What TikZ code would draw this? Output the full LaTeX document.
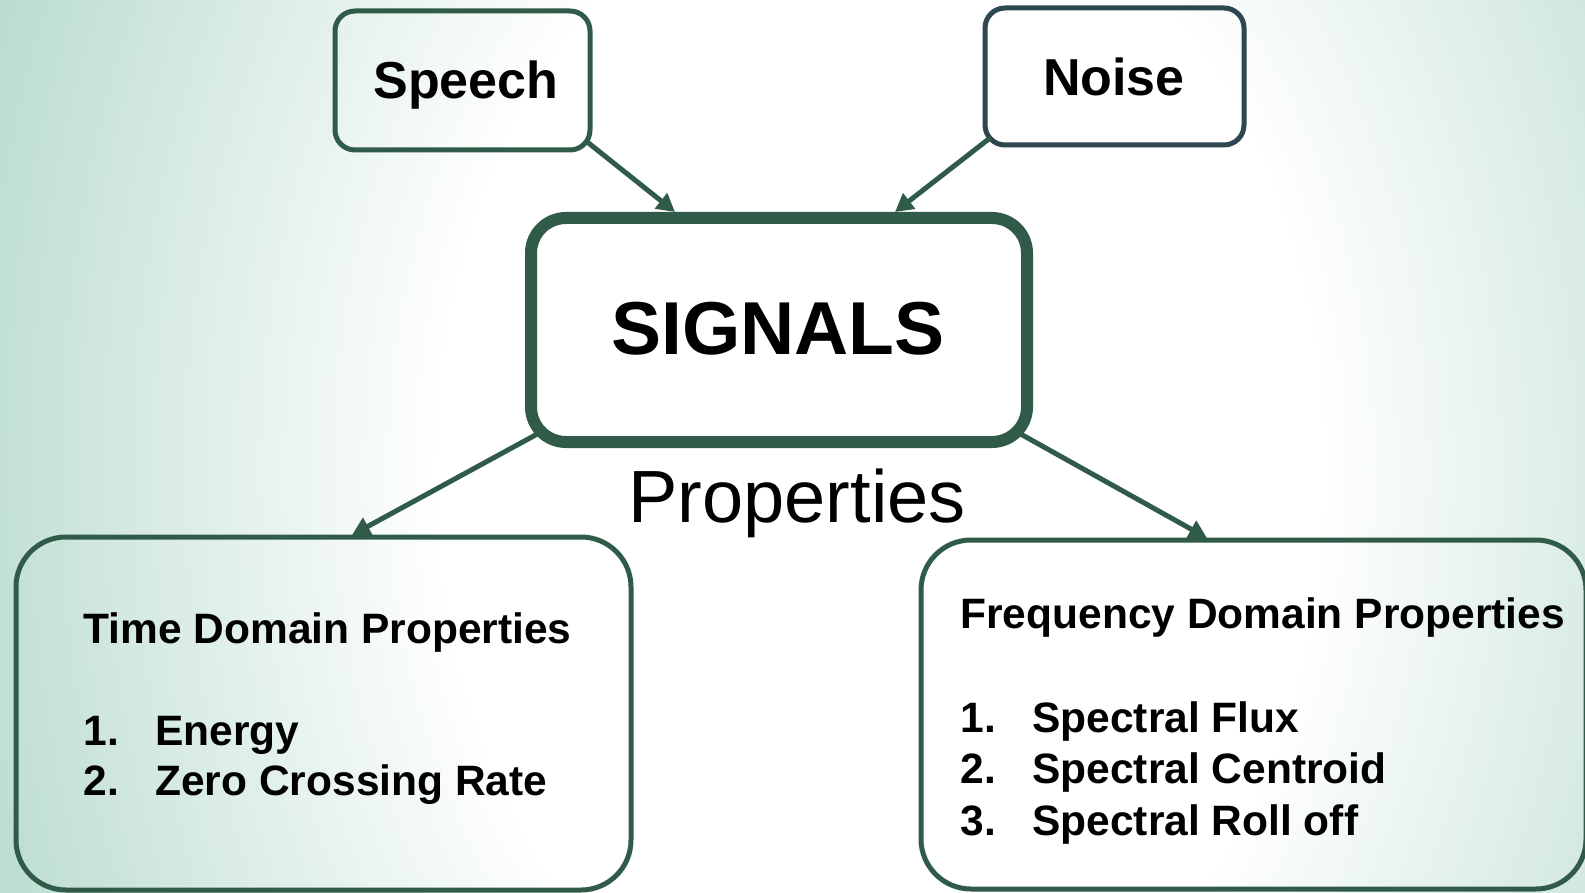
\documentclass[tikz,border=0pt]{standalone}
\usepackage{fontspec}
\setmainfont{Liberation Sans}
\usetikzlibrary{arrows.meta,calc}
\definecolor{edge}{RGB}{48,91,72}
\definecolor{edgeb}{RGB}{46,70,80}
\definecolor{bggreen}{RGB}{183,218,205}
\pgfdeclareradialshading{bgshade}{\pgfpoint{0bp}{0bp}}{color(0bp)=(white); color(10bp)=(white); color(22bp)=(bggreen); color(50bp)=(bggreen)}
\begin{document}
\begin{tikzpicture}[x=0.5pt,y=-0.5pt,
  box/.style={draw=edge, line width=2.5pt, inner sep=0pt, outer sep=0pt},
  conn/.style={draw=edge, line width=2.5pt, -{Triangle[length=9pt,width=9.5pt]}},
  lbl/.style={anchor=base, inner sep=0pt, text=black},
  small/.style={lbl, anchor=base west, font=\fontsize{21.25pt}{25pt}\selectfont\bfseries}]
\useasboundingbox (0,0) rectangle (1585,893);
\begin{scope}
\clip (0,0) rectangle (1585,893);
\shade[shading=bgshade] (-220,-1030) rectangle (1980,1970);
\end{scope}
% boxes
\node[box, rounded corners=10pt, minimum width=127.5pt, minimum height=69.5pt] (speech) at (462.5,80.5) {};
\node[box, draw=edgeb, rounded corners=10pt, minimum width=129.5pt, minimum height=68.5pt] (noise) at (1114.5,76.5) {};
\node[box, line width=6pt, rounded corners=17.5pt, minimum width=248pt, minimum height=112pt] (sig) at (779,330) {};
\node[box, rounded corners=25pt, minimum width=307.5pt, minimum height=176.5pt] (time) at (323.5,713.5) {};
\node[box, rounded corners=25pt, minimum width=332.5pt, minimum height=174.5pt] (freq) at (1253.5,714.5) {};
% texts
\node[lbl, font=\fontsize{26pt}{30pt}\selectfont\bfseries] (tspeech) at (466,99) {Speech};
\node[lbl, font=\fontsize{26pt}{30pt}\selectfont\bfseries] (tnoise) at (1114,96) {Noise};
\node[lbl, font=\fontsize{37.5pt}{42pt}\selectfont\bfseries] (tsig) at (778,355) {SIGNALS};
\node[lbl, font=\fontsize{37pt}{42pt}\selectfont] (tprop) at (797,522) {Properties};
\node[small] (th) at (83,643) {Time Domain Properties};
\node[small] (tn1) at (83,745) {1.};
\node[small] (tt1) at (155,745) {Energy};
\node[small] (tn2) at (83,795) {2.};
\node[small] (tt2) at (155,795) {Zero Crossing Rate};
\node[small] (fh) at (960,628) {Frequency Domain Properties};
\node[small] (fn1) at (960,732) {1.};
\node[small] (ft1) at (1032,732) {Spectral Flux};
\node[small] (fn2) at (960,783) {2.};
\node[small] (ft2) at (1032,783) {Spectral Centroid};
\node[small] (fn3) at (960,835) {3.};
\node[small] (ft3) at (1032,835) {Spectral Roll off};
% connectors
\draw[conn] ($(speech.south east)+(-4,-9)$) -- ($(sig.north west)+(144,-6)$);
\draw[conn] ($(noise.south west)+(5,-7)$) -- ($(sig.north west)+(364,-6)$);
\draw[conn] ($(sig.south west)+(10,-10)$) -- ($(time.north west)+(336,-2)$);
\draw[conn] ($(sig.south east)+(-10,-10)$) -- ($(freq.north west)+(286,-2)$);
\end{tikzpicture}
\end{document}
